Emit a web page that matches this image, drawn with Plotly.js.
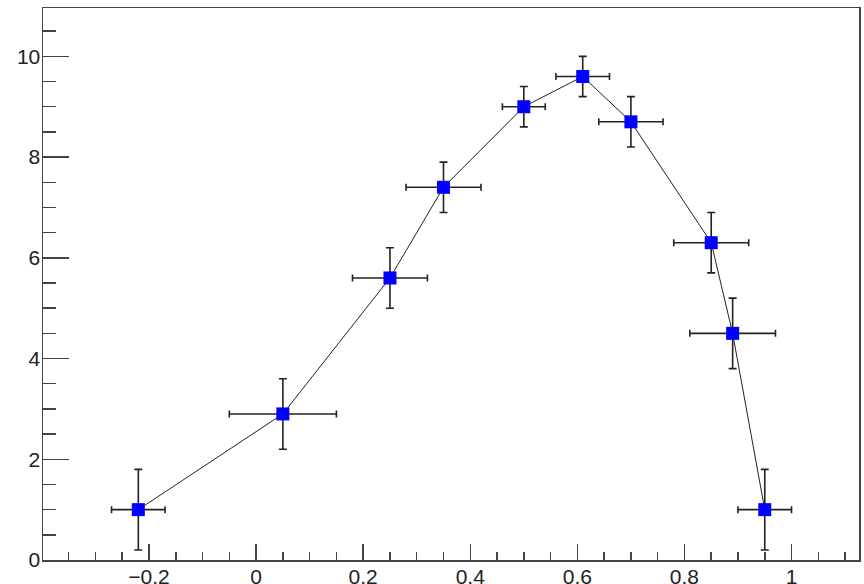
<!DOCTYPE html>
<html>
<head>
<meta charset="utf-8">
<script src="https://cdn.plot.ly/plotly-3.0.1.min.js"></script>
<style>html,body{margin:0;padding:0;background:#fff;}#chart{width:864px;height:584px;}</style>
</head>
<body>
<div id="chart"></div>
<script>
const xValues = [-0.22, 0.05, 0.25, 0.35, 0.50, 0.61, 0.70, 0.85, 0.89, 0.95];
const yValues = [1.0, 2.9, 5.6, 7.4, 9.0, 9.6, 8.7, 6.3, 4.5, 1.0];
const xErrors = [0.05, 0.10, 0.07, 0.07, 0.04, 0.05, 0.06, 0.07, 0.08, 0.05];
const yErrors = [0.8, 0.7, 0.6, 0.5, 0.4, 0.4, 0.5, 0.6, 0.7, 0.8];

const errColor = '#222';
const traces = [
  {
    x: xValues, y: yValues, type: 'scatter', mode: 'lines',
    line: {color: '#222', width: 1},
    error_x: {type: 'data', array: xErrors, visible: true, color: errColor, thickness: 1.6, width: 3.5},
    error_y: {type: 'data', array: yErrors, visible: true, color: errColor, thickness: 1.6, width: 4},
    hoverinfo: 'skip', showlegend: false
  },
  {
    x: xValues, y: yValues, type: 'scatter', mode: 'markers',
    marker: {symbol: 'square', size: 13, color: '#0000ff', line: {width: 0}},
    showlegend: false
  }
];

const axisCommon = {
  showgrid: false, zeroline: false, showline: true, mirror: true,
  linecolor: '#444', linewidth: 1.5,
  ticks: 'inside', tickcolor: '#444', tickwidth: 1.5,
  tickfont: {family: 'Liberation Sans, Arial, sans-serif', size: 21, color: '#222'}
};

const layout = {
  width: 864, height: 584,
  margin: {l: 43, r: 5, t: 8, b: 24, pad: 0},
  paper_bgcolor: '#fff', plot_bgcolor: '#fff',
  xaxis: Object.assign({}, axisCommon, {
    range: [-0.398, 1.126], tick0: 0, dtick: 0.2, ticklen: 16,
    ticklabelstandoff: -3,
    minor: {ticks: 'inside', dtick: 0.05, tick0: 0, ticklen: 8, tickcolor: '#444', tickwidth: 1.5, showgrid: false}
  }),
  yaxis: Object.assign({}, axisCommon, {
    range: [0, 10.96], tick0: 0, dtick: 2, ticklen: 26,
    ticklabelstandoff: -3,
    minor: {ticks: 'inside', dtick: 0.5, tick0: 0, ticklen: 13, tickcolor: '#444', tickwidth: 1.5, showgrid: false}
  })
};

Plotly.newPlot('chart', traces, layout, {displayModeBar: false, staticPlot: true});
</script>
</body>
</html>
